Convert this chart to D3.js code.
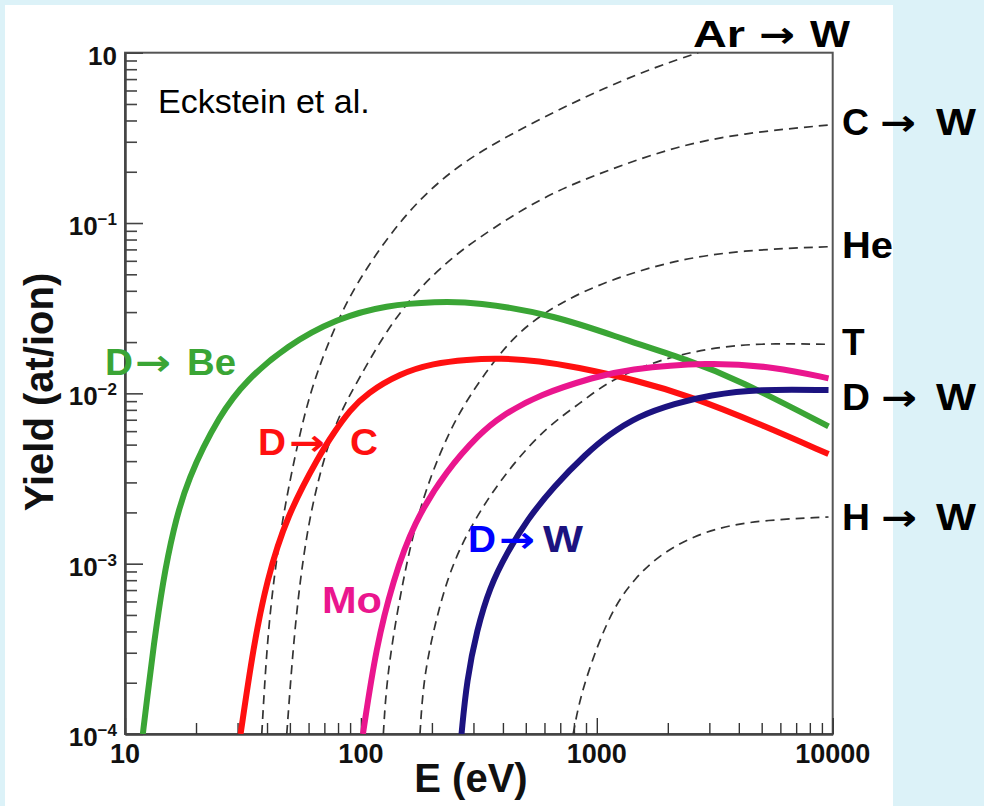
<!DOCTYPE html>
<html><head><meta charset="utf-8">
<script src="https://cdn.jsdelivr.net/npm/d3@7/dist/d3.min.js"></script>
<style>body{margin:0;background:#dcf2f8;}svg{display:block}</style>
</head><body><svg id="c" width="984" height="806"></svg>
<script>
// ---------- data (energy in eV, yield in atoms/ion) ----------
const beE = [11.9, 12.4, 13.2, 14.5, 16.0, 18.3, 25.3, 32.8, 48.4, 78.9, 128.5, 209, 305, 665, 1318, 2443, 3981, 9600];
const beY = [1e-4, 1.6e-4, 3.25e-4, 8.0e-4, 1.57e-3, 3.1e-3, 7.6e-3, 0.0120, 0.0190, 0.0275, 0.0330, 0.0345, 0.0345, 0.0288, 0.0206, 0.0157, 0.0120, 0.0064];

const cE = [30.9, 35.0, 39.9, 48.4, 67.1, 76.4, 89.9, 105.9, 146.6, 202.8, 281, 389, 574, 809, 1452, 2523, 4840, 9600];
const cY = [1e-4, 3.25e-4, 8.0e-4, 1.90e-3, 4.40e-3, 5.82e-3, 7.98e-3, 0.0100, 0.0131, 0.0150, 0.0158, 0.0161, 0.0155, 0.0143, 0.0120, 0.00955, 0.00667, 0.00440];

const moE = [102, 116, 137, 167, 231, 320, 389, 574, 989, 1318, 2972, 5690, 9600];
const moY = [1e-4, 3.25e-4, 8.0e-4, 1.73e-3, 3.55e-3, 5.82e-3, 7.3e-3, 0.0099, 0.0125, 0.0138, 0.0153, 0.0143, 0.01225];

const wE = [267, 281, 310, 352, 415, 505, 655, 906, 1119, 1495, 2147, 3000, 4840, 9600];
const wY = [1e-4, 2.07e-4, 4.07e-4, 7.31e-4, 1.15e-3, 1.80e-3, 2.83e-3, 4.45e-3, 5.69e-3, 7.36e-3, 8.73e-3, 9.77e-3, 0.0106, 0.01045];

// Eckstein reference curves on W (dashed)
const arE = [38.0, 39.9, 42.6, 46.9, 53.5, 61.8, 81.5, 105.9, 151, 216, 320, 583, 1119, 1824, 2692];
const arY = [1e-4, 3.25e-4, 8.0e-4, 1.97e-3, 4.85e-3, 0.0112, 0.0295, 0.0553, 0.109, 0.179, 0.265, 0.414, 0.637, 0.835, 1.0];

const cwE = [48.5, 51.6, 55.2, 60.8, 71.6, 84.1, 97.5, 128.5, 178, 247, 305, 583, 1119, 2147, 4111, 9600];
const cwY = [1e-4, 3.25e-4, 8.0e-4, 1.97e-3, 4.85e-3, 8.34e-3, 0.0120, 0.0236, 0.0423, 0.0634, 0.0794, 0.143, 0.205, 0.281, 0.337, 0.376];

const heE = [124.5, 128.5, 141.9, 161.4, 184, 216, 255, 320, 450, 687, 1119, 2147, 4111, 9600];
const heY = [1e-4, 2.07e-4, 5.1e-4, 1.26e-3, 2.47e-3, 4.45e-3, 7.3e-3, 0.0120, 0.0225, 0.0338, 0.0462, 0.0607, 0.0693, 0.0726];

const tE = [178, 184, 203, 231, 272, 341, 443, 614, 849, 1138, 1824, 2972, 4840, 9600];
const tY = [1e-4, 2.07e-4, 4.07e-4, 8.0e-4, 1.38e-3, 2.36e-3, 3.88e-3, 6.37e-3, 8.73e-3, 0.0120, 0.0157, 0.0184, 0.0197, 0.0194];

const hE = [794, 849, 999, 1194, 1452, 1824, 2523, 4111, 9600];
const hY = [1e-4, 1.65e-4, 3.25e-4, 5.71e-4, 8.22e-4, 1.11e-3, 1.45e-3, 1.78e-3, 1.88e-3];

const xTickValues = [10, 100, 1000, 10000];
const xTickLabels = ["10", "100", "1000", "10000"];
const yTickValues = [1, 1e-1, 1e-2, 1e-3, 1e-4];
const yTickBase = "10";
const yTickExps = ["", "\u22121", "\u22122", "\u22123", "\u22124"];

const xTitle = "E (eV)";
const yTitle = "Yield (at/ion)";
const noteText = "Eckstein et al.";

// ---------- layout ----------
const L = 125, R = 832.7, T = 52.7, B = 734;
const svg = d3.select("#c");
const FONT = "'Liberation Sans', Arial, Helvetica, sans-serif";
const AFONT = "'DejaVu Sans', sans-serif";

svg.append("rect").attr("x", 5).attr("y", 5).attr("width", 888).attr("height", 801).attr("fill", "#ffffff");

const x = d3.scaleLog().domain([10, 10000]).range([L, R]);
const y = d3.scaleLog().domain([1e-4, 1]).range([B, T]);

svg.append("clipPath").attr("id", "clip").append("rect")
  .attr("x", L).attr("y", T).attr("width", R - L).attr("height", B - T);

const isMajor = v => Math.abs(Math.log10(v) - Math.round(Math.log10(v))) < 1e-9;

// frame (top/right)
svg.append("rect").attr("x", L).attr("y", T).attr("width", R - L).attr("height", B - T)
  .attr("fill", "none").attr("stroke", "#555").attr("stroke-width", 2);

// x axis
const gx = svg.append("g").attr("transform", `translate(0,${B})`)
  .call(d3.axisBottom(x).tickValues(x.ticks()).tickSizeOuter(0).tickSizeInner(0).tickFormat(""));
gx.select(".domain").attr("stroke", "#444").attr("stroke-width", 2.5);
gx.selectAll(".tick line").attr("y2", d => isMajor(d) ? -16 : -11).attr("stroke", "#333").attr("stroke-width", 1.4);

// y axis
const gy = svg.append("g").attr("transform", `translate(${L},0)`)
  .call(d3.axisLeft(y).tickValues(y.ticks()).tickSizeOuter(0).tickSizeInner(0).tickFormat(""));
gy.select(".domain").attr("stroke", "#444").attr("stroke-width", 2.5);
gy.selectAll(".tick line").attr("x2", d => isMajor(d) ? 18 : 12).attr("stroke", "#444").attr("stroke-width", 1.6);

// tick labels
svg.append("g").selectAll("text").data(xTickValues).join("text")
  .attr("x", d => x(d)).attr("y", B + 29).attr("text-anchor", "middle")
  .attr("font-family", FONT).attr("font-weight", "bold").attr("font-size", 27).attr("fill", "#111")
  .text((d, i) => xTickLabels[i]);

const yl = svg.append("g").selectAll("text").data(yTickValues).join("text")
  .attr("x", 117).attr("y", d => y(d) + 12).attr("text-anchor", "end")
  .attr("font-family", FONT).attr("font-weight", "bold").attr("font-size", 26).attr("fill", "#111");
yl.append("tspan").text(yTickBase);
yl.append("tspan").attr("font-size", 17).attr("dy", -10).text((d, i) => yTickExps[i]);

// axis titles
svg.append("text").attr("x", 471).attr("y", 792).attr("text-anchor", "middle")
  .attr("font-family", FONT).attr("font-weight", "bold").attr("font-size", 40).attr("fill", "#111").text(xTitle);
svg.append("text").attr("transform", "translate(53,392) rotate(-90)").attr("text-anchor", "middle")
  .attr("font-family", FONT).attr("font-weight", "bold").attr("font-size", 40).attr("fill", "#111").text(yTitle);

svg.append("text").attr("x", 158).attr("y", 113).attr("font-family", FONT).attr("font-size", 34)
  .attr("fill", "#000").text(noteText);

// ---------- curves ----------
const line = d3.line().x(d => x(d[0])).y(d => y(d[1])).curve(d3.curveBasis);
const zip = (a, b) => a.map((v, i) => [v, b[i]]);

const dashed = [[arE, arY], [cwE, cwY], [heE, heY], [tE, tY], [hE, hY]];
const solid = [
  {E: beE, Y: beY, color: "#3aa535"},
  {E: cE, Y: cY, color: "#ff1010"},
  {E: moE, Y: moY, color: "#ea168e"},
  {E: wE, Y: wY, color: "#1c1380"}
];

const gc = svg.append("g").attr("clip-path", "url(#clip)");
gc.selectAll("path.d").data(dashed).join("path").attr("class", "d")
  .attr("d", d => line(zip(d[0], d[1]))).attr("fill", "none")
  .attr("stroke", "#333").attr("stroke-width", 1.7).attr("stroke-dasharray", "9,6");
gc.selectAll("path.s").data(solid).join("path").attr("class", "s")
  .attr("d", d => line(zip(d.E, d.Y))).attr("fill", "none")
  .attr("stroke", d => d.color).attr("stroke-width", 6);

// ---------- labels ----------
// parts: [text, x, width, isArrow, color]
function lab(parts, yy, color) {
  parts.forEach(p => {
    const t = svg.append("text").attr("x", p[1]).attr("y", yy)
      .attr("font-family", p[3] ? AFONT : FONT).attr("font-weight", "bold")
      .attr("font-size", p[3] ? 36 : 37).attr("fill", p[4] || color || "#000").text(p[0]);
    if (p[2]) t.attr("textLength", p[2]).attr("lengthAdjust", "spacingAndGlyphs");
  });
}
const ARROW = "\u2192";
lab([["Ar", 693, 52], [ARROW, 759, 36, true], ["W", 810, 40]], 47);
lab([["C", 842, 27], [ARROW, 880, 36, true], ["W", 936, 40]], 135);
lab([["He", 842, 51]], 258);
lab([["T", 842, 0]], 355);
lab([["D", 842, 28], [ARROW, 881, 36, true], ["W", 936, 40]], 410);
lab([["H", 842, 28], [ARROW, 881, 36, true], ["W", 936, 40]], 530);

lab([["D", 105, 28], [ARROW, 135, 36, true], ["Be", 187, 49]], 375, "#3aa535");
lab([["D", 258, 28], [ARROW, 289, 36, true], ["C", 350, 28]], 455, "#ff1010");
lab([["Mo", 322, 60]], 613, "#ea168e");
lab([["D", 468, 28, false, "#0000ff"], [ARROW, 499, 36, true, "#0000ff"], ["W", 543, 40, false, "#1c1380"]], 552);
</script></body></html>
